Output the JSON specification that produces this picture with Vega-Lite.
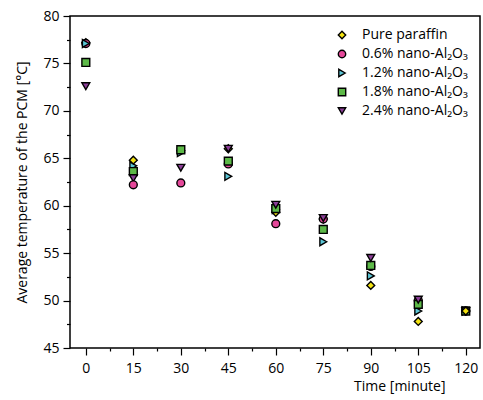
{
  "$schema": "https://vega.github.io/schema/vega-lite/v6.json",
  "width": 410,
  "height": 332,
  "autosize": "none",
  "padding": {"left": 70, "top": 16, "right": 3, "bottom": 52},
  "background": "white",
  "config": {
    "font": "Open Sans",
    "view": {"stroke": "black", "strokeWidth": 1.5},
    "axis": {"labelColor": "black", "titleColor": "black", "tickColor": "black", "labelFontSize": 14, "titleFontSize": 14, "titleFontWeight": "normal", "grid": false, "domain": false, "tickWidth": 1.2}
  },
  "data": {
    "values": [
      {"t": 0, "s": "Pure paraffin", "v": 77.2},
      {"t": 0, "s": "0.6% nano-Al₂O₃", "v": 77.1},
      {"t": 0, "s": "1.2% nano-Al₂O₃", "v": 77.1},
      {"t": 0, "s": "1.8% nano-Al₂O₃", "v": 75.1},
      {"t": 0, "s": "2.4% nano-Al₂O₃", "v": 72.6},
      {"t": 15, "s": "1.2% nano-Al₂O₃", "v": 64.2},
      {"t": 15, "s": "1.8% nano-Al₂O₃", "v": 63.6},
      {"t": 15, "s": "2.4% nano-Al₂O₃", "v": 62.9},
      {"t": 15, "s": "0.6% nano-Al₂O₃", "v": 62.2},
      {"t": 15, "s": "Pure paraffin", "v": 64.8},
      {"t": 30, "s": "Pure paraffin", "v": 65.8},
      {"t": 30, "s": "0.6% nano-Al₂O₃", "v": 62.4},
      {"t": 30, "s": "1.2% nano-Al₂O₃", "v": 65.6},
      {"t": 30, "s": "1.8% nano-Al₂O₃", "v": 65.9},
      {"t": 30, "s": "2.4% nano-Al₂O₃", "v": 64.0},
      {"t": 45, "s": "Pure paraffin", "v": 66.0},
      {"t": 45, "s": "0.6% nano-Al₂O₃", "v": 64.4},
      {"t": 45, "s": "1.2% nano-Al₂O₃", "v": 63.1},
      {"t": 45, "s": "1.8% nano-Al₂O₃", "v": 64.7},
      {"t": 45, "s": "2.4% nano-Al₂O₃", "v": 66.0},
      {"t": 60, "s": "Pure paraffin", "v": 59.3},
      {"t": 60, "s": "0.6% nano-Al₂O₃", "v": 58.1},
      {"t": 60, "s": "1.2% nano-Al₂O₃", "v": 59.6},
      {"t": 60, "s": "1.8% nano-Al₂O₃", "v": 59.7},
      {"t": 60, "s": "2.4% nano-Al₂O₃", "v": 60.1},
      {"t": 75, "s": "Pure paraffin", "v": 58.6},
      {"t": 75, "s": "0.6% nano-Al₂O₃", "v": 58.6},
      {"t": 75, "s": "1.2% nano-Al₂O₃", "v": 56.2},
      {"t": 75, "s": "1.8% nano-Al₂O₃", "v": 57.5},
      {"t": 75, "s": "2.4% nano-Al₂O₃", "v": 58.7},
      {"t": 90, "s": "Pure paraffin", "v": 51.6},
      {"t": 90, "s": "0.6% nano-Al₂O₃", "v": 53.6},
      {"t": 90, "s": "1.2% nano-Al₂O₃", "v": 52.6},
      {"t": 90, "s": "1.8% nano-Al₂O₃", "v": 53.7},
      {"t": 90, "s": "2.4% nano-Al₂O₃", "v": 54.5},
      {"t": 105, "s": "Pure paraffin", "v": 47.8},
      {"t": 105, "s": "0.6% nano-Al₂O₃", "v": 50.0},
      {"t": 105, "s": "1.2% nano-Al₂O₃", "v": 48.9},
      {"t": 105, "s": "1.8% nano-Al₂O₃", "v": 49.6},
      {"t": 105, "s": "2.4% nano-Al₂O₃", "v": 50.1},
      {"t": 120, "s": "0.6% nano-Al₂O₃", "v": 48.9},
      {"t": 120, "s": "1.2% nano-Al₂O₃", "v": 48.9},
      {"t": 120, "s": "1.8% nano-Al₂O₃", "v": 48.9},
      {"t": 120, "s": "2.4% nano-Al₂O₃", "v": 48.9},
      {"t": 120, "s": "Pure paraffin", "v": 48.9}
    ]
  },
  "mark": {"type": "point", "filled": true, "size": 62, "stroke": "black", "strokeWidth": 1.4, "opacity": 1},
  "encoding": {
    "x": {
      "field": "t", "type": "quantitative",
      "scale": {"domain": [-5, 124.5], "nice": false, "zero": false},
      "axis": {
        "title": "Time [minute]",
        "values": [0, 7.5, 15, 22.5, 30, 37.5, 45, 52.5, 60, 67.5, 75, 82.5, 90, 97.5, 105, 112.5, 120],
        "labelExpr": "datum.value % 15 === 0 ? datum.label : ''",
        "tickSize": {"condition": {"test": "datum.value % 15 === 0", "value": 7}, "value": 3},
        "labelPadding": 6,
        "labelFlush": false,
        "titleAnchor": "end",
        "titleAlign": "right",
        "titleX": 375,
        "titlePadding": 4
      }
    },
    "y": {
      "field": "v", "type": "quantitative",
      "scale": {"domain": [45, 80], "nice": false, "zero": false},
      "axis": {
        "title": "Average temperature of the PCM [°C]",
        "values": [45, 47.5, 50, 52.5, 55, 57.5, 60, 62.5, 65, 67.5, 70, 72.5, 75, 77.5, 80],
        "labelExpr": "datum.value % 5 === 0 ? datum.label : ''",
        "tickSize": {"condition": {"test": "datum.value % 5 === 0", "value": 7}, "value": 3.5},
        "labelPadding": 4,
        "labelFlush": false,
        "titlePadding": 13
      }
    },
    "color": {
      "field": "s", "type": "nominal",
      "scale": {
        "domain": ["Pure paraffin", "0.6% nano-Al₂O₃", "1.2% nano-Al₂O₃", "1.8% nano-Al₂O₃", "2.4% nano-Al₂O₃"],
        "range": ["#f3e312", "#e5489a", "#5cc6d6", "#5db948", "#8b3f97"]
      },
      "legend": {
        "title": null,
        "orient": "top-right",
        "offset": 12,
        "labelFontSize": 14,
        "labelColor": "black",
        "rowPadding": 5,
        "symbolStrokeColor": "black",
        "symbolStrokeWidth": 1.4,
        "symbolSize": 55,
        "labelOffset": 13
      }
    },
    "shape": {
      "field": "s", "type": "nominal",
      "scale": {
        "domain": ["Pure paraffin", "0.6% nano-Al₂O₃", "1.2% nano-Al₂O₃", "1.8% nano-Al₂O₃", "2.4% nano-Al₂O₃"],
        "range": ["diamond", "circle", "triangle-right", "square", "triangle-down"]
      },
      "legend": null
    }
  }
}
